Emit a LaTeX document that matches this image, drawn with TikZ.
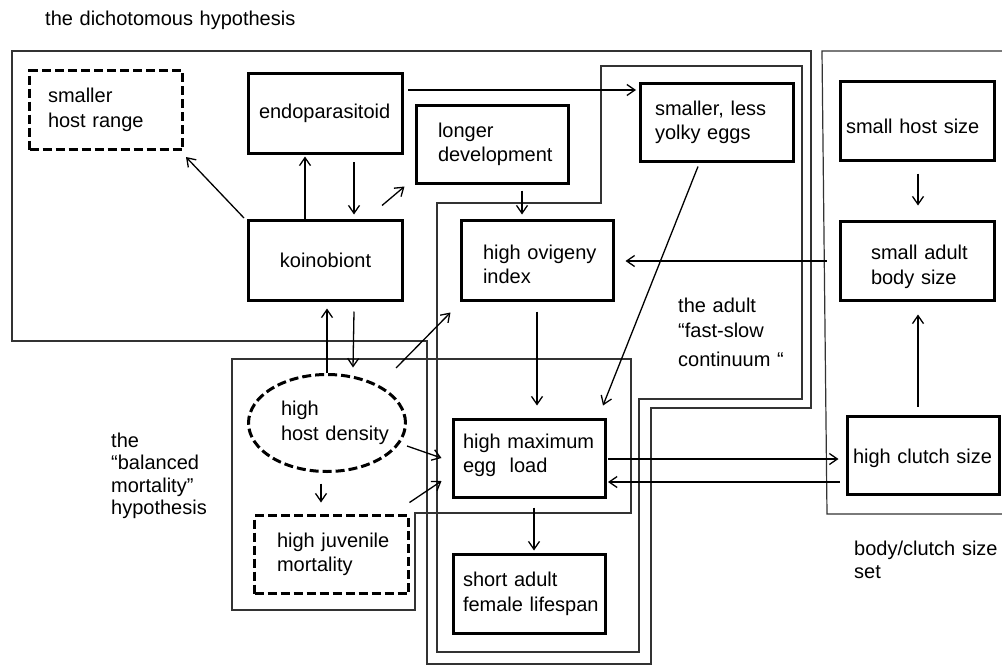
\documentclass[tikz,border=0pt]{standalone}
\usepackage{fontspec}
\setmainfont{Liberation Sans}
\usetikzlibrary{arrows.meta,calc,shapes.geometric}
\newcommand{\lowerby}[2]{\raisebox{-#1}[\height][\depth]{\mbox{#2}}}
\tikzset{
  txt/.style={font=\fontsize{20}{24.5}\selectfont},
  box/.style={txt, draw, line width=3pt, inner sep=0pt, align=left},
  dbox/.style={box, dash pattern=on 9pt off 4pt},
  region/.style={draw=black!80, line width=1.2pt},
  arr/.style={line width=1.3pt, -{Straight Barb[length=8pt,width=11pt]}},
  lbl/.style={inner sep=0pt, anchor=base west, align=left, text width=300pt},
}
\begin{document}
\begin{tikzpicture}[x=1pt,y=-1pt]
\useasboundingbox (0,0) rectangle (1002,667);
\fill[white] (0,0) rectangle (1002,667);

% regions
\draw[region] (12,51) -- (811,51) -- (811,408) -- (651,408) -- (651,664) -- (427,664) -- (427,341) -- (12,341) -- cycle;
\draw[region] (601,66) -- (802,66) -- (802,399) -- (639,399) -- (639,652) -- (437,652) -- (437,203) -- (601,203) -- cycle;
\draw[region] (232,359) -- (631,359) -- (631,513) -- (415,513) -- (415,610) -- (232,610) -- cycle;
\draw[region] (1002,51) -- (822,51) -- (827,514) -- (1002,514);

% labels
\node[lbl, font=\fontsize{20}{24}\selectfont] (title) at (45,25) {\mbox{the dichotomous hypothesis}};
\node[lbl, font=\fontsize{20}{22.5}\selectfont] (balanced) at (111,447) {the\\“balanced\\mortality”\\hypothesis};
\node[lbl, font=\fontsize{20}{25}\selectfont] (adult) at (678,312) {the adult\\“fast-slow\\[4pt]continuum “};
\node[lbl, font=\fontsize{20}{23}\selectfont] (bodyset) at (854,555) {\mbox{body/clutch size}\\set};

% boxes
\node[dbox, minimum width=153pt, minimum height=79pt, text width=116pt] (shr) at (106,110) {smaller\\\mbox{host range}};
\node[box, minimum width=154pt, minimum height=80pt, text width=133pt] (endo) at (325.5,113) {endoparasitoid};
\node[box, minimum width=152pt, minimum height=78pt, text width=109pt] (dev) at (492.5,144.5) {longer\\\mbox{development}};
\node[box, minimum width=153pt, minimum height=78pt, text width=124pt] (eggs) at (717,122.5) {\mbox{smaller, less}\\\mbox{yolky eggs}};
\node[box, align=center, minimum width=154pt, minimum height=80pt] (koino) at (325.5,260.5) {koinobiont};
\node[box, minimum width=152pt, minimum height=80pt, text width=109pt] (ovig) at (537.5,260.5) {\lowerby{4pt}{high ovigeny}\\\lowerby{4pt}{index}};
\node[box, minimum width=154pt, minimum height=79pt, text width=143pt] (shs) at (917.5,121) {\lowerby{5pt}{small host size}};
\node[box, minimum width=154pt, minimum height=79pt, text width=93pt] (sabs) at (917.5,261) {\lowerby{6pt}{small adult}\\\lowerby{6pt}{body size}};
\node[dbox, ellipse, minimum width=157pt, minimum height=97pt, text width=92pt] (hhd) at (327,423) {high\\\mbox{host density}};
\node[dbox, minimum width=154pt, minimum height=78pt, text width=109pt] (hjm) at (331.5,554.5) {\mbox{high juvenile}\\mortality};
\node[box, minimum width=152pt, minimum height=78pt, text width=133pt] (hmel) at (529.5,458.5) {\lowerby{-3pt}{high maximum}\\\lowerby{-3pt}{egg~ load}};
\node[box, minimum width=152pt, minimum height=79pt, text width=133pt] (sal) at (529.5,594) {\mbox{short adult}\\\mbox{female lifespan}};
\node[box, minimum width=152pt, minimum height=78pt, text width=141pt] (hcs) at (923.5,455.5) {\lowerby{3pt}{high clutch size}};

% connectors
\draw[arr] ($(koino.north west)+(-3,-1)$) -- ($(shr.south east)+(2,6)$);
\draw[arr] ($(koino.north)+(-20.5,0)$) -- ($(endo.south)+(-20.5,2)$);
\draw[arr] ($(endo.south)+(28.5,7.5)$) -- ($(koino.north)+(28.5,-4.5)$);
\draw[arr] ($(koino.north)+(56.5,-13.5)$) -- ($(dev.south west)+(-10.5,1.5)$);
\draw[arr] ($(endo.east)+(4,-23)$) -- ($(eggs.west)+(-3,-32.5)$);
\draw[arr] ($(dev.south)+(29.5,5.5)$) -- ($(ovig.north)+(-15.5,-4.5)$);
\draw[arr] ($(sabs.west)+(-12.5,0)$) -- ($(ovig.east)+(10.5,0.5)$);
\draw[arr] ($(eggs.south)+(-19,3.5)$) -- ($(hmel.north east)+(-4,-12.5)$);
\draw[arr] ($(ovig.south)+(-0.5,9.5)$) -- ($(hmel.north)+(7.5,-12.5)$);
\draw[arr] (hhd.north) -- ($(koino.south)+(1.5,6.5)$);
\draw[arr] ($(koino.south)+(28.5,9.5)$) -- ($(hhd.north)+(26,-5.5)$);
\draw[arr] ($(hhd.north east)+(12.5,-19.7)$) -- ($(ovig.south west)+(-9.5,10.5)$);
\draw[arr] ($(hhd.east)+(0,23)$) -- ($(hmel.west)+(-10.5,-0.5)$);
\draw[arr] ($(hjm.north east)+(-0.5,-11.5)$) -- ($(hmel.west)+(-10.5,22.5)$);
\draw[arr] ($(hhd.south)+(-6,10.5)$) -- ($(hjm.north)+(-10.5,-11.5)$);
\draw[arr] ($(hmel.south)+(4.5,8.5)$) -- ($(sal.north)+(4.5,-2.5)$);
\draw[arr] ($(hmel.east)+(1,0.5)$) -- ($(hcs.west)+(-7.5,3.5)$);
\draw[arr] ($(hcs.west)+(-6.5,26.5)$) -- ($(hmel.east)+(1,23.5)$);
\draw[arr] ($(hcs.north)+(-5.5,-8.5)$) -- ($(sabs.south)+(0.5,12.5)$);
\draw[arr] ($(shs.south)+(0.5,11.5)$) -- ($(sabs.north)+(0.5,-14.5)$);
\end{tikzpicture}
\end{document}
